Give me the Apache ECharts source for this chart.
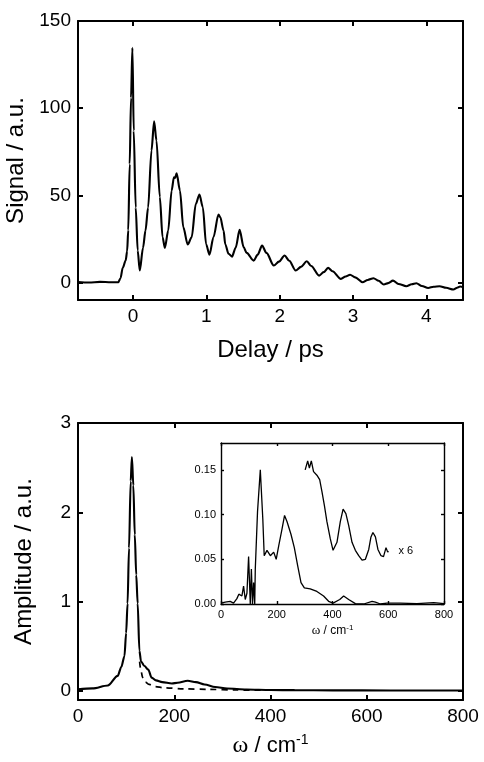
<!DOCTYPE html>
<html>
<head>
<meta charset="utf-8">
<script src="https://cdn.jsdelivr.net/npm/echarts@6/dist/echarts.min.js"></script>
<style>
  html, body { margin: 0; padding: 0; background: #fff; }
  #chart { width: 484px; height: 762px; }
</style>
</head>
<body>
<div id="chart"></div>
<script>
// top panel: signal vs delay
var delayPs = [-0.75, -0.6, -0.45, -0.3, -0.2, -0.17, -0.14, -0.1, -0.08, -0.065, -0.045, -0.027, -0.008,
    0.01, 0.037, 0.064, 0.092, 0.137, 0.17, 0.206, 0.252, 0.288, 0.32, 0.366, 0.403, 0.435, 0.48, 0.527,
    0.558, 0.575, 0.595, 0.64, 0.686, 0.746, 0.8, 0.856, 0.906, 0.952, 0.997, 1.043, 1.097, 1.166, 1.19,
    1.235, 1.258, 1.303, 1.35, 1.4, 1.454, 1.509, 1.55, 1.646, 1.7, 1.76, 1.82, 1.92, 1.99, 2.067, 2.13,
    2.218, 2.29, 2.37, 2.43, 2.538, 2.6, 2.66, 2.72, 2.835, 2.9, 2.96, 3.03, 3.13, 3.2, 3.28, 3.35, 3.42,
    3.48, 3.545, 3.62, 3.727, 3.8, 3.864, 3.94, 4.025, 4.1, 4.18, 4.27, 4.37, 4.42, 4.46, 4.5];
var signal = [0.3, 0.0, 0.4, 0.2, 0.2, 2.5, 8.5, 12.6, 18, 30, 68, 106, 134.6,
    87, 43, 18.4, 6.9, 20, 29.8, 43, 75.7, 92.5, 81.5, 49, 26, 19.9, 29.8, 52.8,
    60.4, 60, 62.7, 52.8, 31.7, 21.8, 26, 45, 50.5, 43.2, 22, 16, 26, 39, 37.5,
    29.8, 22, 16.5, 14.9, 20, 30.2, 20.3, 17, 12.6, 16, 21.2, 17, 9.75, 12, 15.5, 12.5,
    6.9, 9, 12.2, 9.5, 4, 6, 8.4, 6.5, 2.1, 3.5, 4.5, 3, 0.2, 1.5, 2.5, 1, -1.1,
    -0.3, 1.1, -0.8, -2.1, -1, -0.4, -2, -3.1, -2.4, -2.1, -3, -4, -3, -2.3, -2.6];
var delayTicks = [0, 1, 2, 3, 4];
var signalTicks = [0, 50, 100, 150];

// bottom panel: amplitude spectrum
var freq = [0, 30, 62, 82.5, 90, 96.5, 100, 103, 106, 109.5, 112, 115, 118, 121, 124, 127.6, 131, 138,
    146, 153, 162, 175, 195, 207, 228, 245, 263, 285, 310, 350, 400, 450, 530, 650, 800];
var amplitude = [0.02, 0.03, 0.063, 0.17, 0.27, 0.39, 0.65, 0.98, 1.6, 2.35, 2.62, 2.3, 1.75, 1.3, 0.98,
    0.45, 0.33, 0.28, 0.24, 0.15, 0.12, 0.1, 0.085, 0.093, 0.115, 0.1, 0.074, 0.045, 0.028, 0.018, 0.012,
    0.01, 0.008, 0.007, 0.006];
var fitFreq = [128, 131, 134.5, 140, 148, 160, 179, 220, 270, 330, 380];
var fitAmp = [0.33, 0.22, 0.15, 0.1, 0.074, 0.05, 0.037, 0.025, 0.019, 0.012, 0.009];
var ampTicks = [0, 1, 2, 3];

// inset: residual spectrum and the x6 part
var resFreq = [0, 15, 33, 45, 57, 64, 75, 81, 87, 93, 99, 105, 109, 113, 117, 121, 123, 131, 141, 150,
    155, 165, 177, 189, 198, 207, 219, 228, 237, 243, 251, 263, 275, 287, 299, 320, 344, 368, 386, 402,
    426, 440, 458, 482, 512, 542, 554, 572, 595, 643, 703, 763, 800];
var resAmp = [0.001, 0.002, 0.003, 0.001, 0.006, 0.011, 0.009, 0.02, 0.005, 0.012, 0.053, 0, 0.039, 0,
    0.024, 0, 0.039, 0.103, 0.15, 0.095, 0.054, 0.06, 0.054, 0.058, 0.05, 0.065, 0.084, 0.099, 0.092,
    0.093, 0.078, 0.063, 0.043, 0.024, 0.018, 0.017, 0.014, 0.009, 0.003, 0.001, 0.005, 0.009, 0.005,
    0.0004, 0, 0.003, 0.002, 0, 0.001, 0.001, 0.0004, 0.0015, 0.0004];
var x6Freq = [302, 311, 317, 324, 332, 344, 354, 362, 371, 380, 392, 402, 416, 428, 438, 448, 458, 470,
    482, 494, 506, 518, 530, 538, 545, 554, 563, 574, 583, 592, 598, 601];
var x6Amp = [0.15, 0.16, 0.152, 0.16, 0.148, 0.144, 0.139, 0.126, 0.11, 0.092, 0.073, 0.06, 0.069, 0.092,
    0.106, 0.101, 0.088, 0.069, 0.06, 0.054, 0.049, 0.05, 0.061, 0.075, 0.08, 0.075, 0.061, 0.054, 0.053,
    0.063, 0.058, 0.059];
var insetTicks = [0, 0.05, 0.1, 0.15];

function pairs(xs, ys) {
    return xs.map(function (x, i) { return [x, ys[i]]; });
}

var FONT = '"Liberation Sans", Arial, sans-serif';
var NARROW = '"Liberation Sans Narrow", "Arial Narrow", "Liberation Sans", sans-serif';
var black = '#000';

function boxAxes(gridIndex, dim, min, max, opts) {
    // one axis with labels plus a mirrored one without, both with inside ticks
    var main = {
        type: 'value', gridIndex: gridIndex, min: min, max: max,
        splitLine: { show: false },
        axisLine: { onZero: false, lineStyle: { color: black, width: opts.lw } },
        axisTick: { inside: true, length: opts.tl, lineStyle: { color: black, width: opts.lw } },
        axisLabel: { color: black, fontFamily: opts.ff, fontSize: opts.fs, margin: opts.margin }
    };
    if (opts.interval) main.interval = opts.interval;
    if (opts.ticks) {
        main.axisTick.customValues = opts.ticks;
        main.axisLabel.customValues = opts.ticks;
    }
    if (opts.formatter) main.axisLabel.formatter = opts.formatter;
    if (opts.name) {
        main.name = opts.name;
        main.nameLocation = 'middle';
        main.nameGap = opts.nameGap;
        main.nameTextStyle = opts.nameStyle;
    }
    var mirror = JSON.parse(JSON.stringify(main));
    delete mirror.name;
    mirror.axisLabel.show = false;
    mirror.position = dim === 'x' ? 'top' : 'right';
    main.position = dim === 'x' ? 'bottom' : 'left';
    return [main, mirror];
}

var bigName = { color: black, fontFamily: FONT, fontSize: 24 };
var omegaName = {
    color: black, fontFamily: FONT, fontSize: 22,
    rich: {
        w: { color: black, fontFamily: '"Liberation Serif", serif', fontSize: 24 },
        s: { color: black, fontFamily: FONT, fontSize: 14, padding: [0, 0, 12, 0] }
    }
};
var smallOmega = {
    color: black, fontFamily: FONT, fontSize: 12,
    rich: {
        w: { color: black, fontFamily: '"Liberation Serif", serif', fontSize: 13 },
        s: { color: black, fontFamily: FONT, fontSize: 8, padding: [0, 0, 6, 0] }
    }
};

var bigOpts = { lw: 2, tl: 5, fs: 19, margin: 7, ff: NARROW };
var xTop = boxAxes(0, 'x', -0.75, 4.5, Object.assign({}, bigOpts, {
    ticks: delayTicks, name: 'Delay / ps', nameGap: 38, nameStyle: bigName }));
var yTop = boxAxes(0, 'y', -10, 150, Object.assign({}, bigOpts, {
    ticks: signalTicks, name: 'Signal / a.u.', nameGap: 42, nameStyle: bigName }));
var xBot = boxAxes(1, 'x', 0, 800, Object.assign({}, bigOpts, {
    interval: 200, name: '{w|ω} / cm{s|-1}', nameGap: 33, nameStyle: omegaName }));
var yBot = boxAxes(1, 'y', -0.1, 3, Object.assign({}, bigOpts, {
    ticks: ampTicks, name: 'Amplitude / a.u.', nameGap: 42, nameStyle: bigName }));
var smallOpts = { lw: 1.4, tl: 3, fs: 11, margin: 5, ff: FONT };
var xIn = boxAxes(2, 'x', 0, 800, Object.assign({}, smallOpts, {
    interval: 200, name: '{w|ω} / cm{s|-1}', nameGap: 20, nameStyle: smallOmega }));
var yIn = boxAxes(2, 'y', 0, 0.18, Object.assign({}, smallOpts, {
    ticks: insetTicks, formatter: function (v) { return v.toFixed(2); } }));

var myChart = echarts.init(document.getElementById('chart'), null, { renderer: 'canvas' });
var option = {
    backgroundColor: '#fff',
    animation: false,
    grid: [
        { left: 78, top: 21, width: 385, height: 279, outerBoundsMode: 'none' },
        { left: 78, top: 423, width: 385, height: 277, outerBoundsMode: 'none' },
        { left: 221, top: 443, width: 223, height: 161, outerBoundsMode: 'none',
          show: true, backgroundColor: '#fff', borderWidth: 0 }
    ],
    xAxis: [xTop[0], xTop[1], xBot[0], xBot[1], xIn[0], xIn[1]],
    yAxis: [yTop[0], yTop[1], yBot[0], yBot[1], yIn[0], yIn[1]],
    series: [
        {
            type: 'line', xAxisIndex: 0, yAxisIndex: 0, data: pairs(delayPs, signal),
            showSymbol: false, smooth: 0.3, smoothMonotone: 'x',
            lineStyle: { color: black, width: 2.1 }
        },
        {
            type: 'line', xAxisIndex: 2, yAxisIndex: 2, data: pairs(freq, amplitude),
            showSymbol: false, smooth: 0.3, smoothMonotone: 'x',
            lineStyle: { color: black, width: 2.1 }
        },
        {
            type: 'line', xAxisIndex: 2, yAxisIndex: 2, data: pairs(fitFreq, fitAmp),
            showSymbol: false, smooth: 0.3, smoothMonotone: 'x',
            lineStyle: { color: black, width: 1.7, type: [6, 5] }
        },
        {
            type: 'line', xAxisIndex: 4, yAxisIndex: 4, data: pairs(resFreq, resAmp),
            showSymbol: false, lineStyle: { color: black, width: 1.3 }
        },
        {
            type: 'line', xAxisIndex: 4, yAxisIndex: 4, data: pairs(x6Freq, x6Amp),
            showSymbol: false, lineStyle: { color: black, width: 1.3 },
            endLabel: { show: true, formatter: 'x 6', distance: 10, color: black, fontFamily: FONT, fontSize: 11 }
        }
    ]
};
myChart.setOption(option);
</script>
</body>
</html>
